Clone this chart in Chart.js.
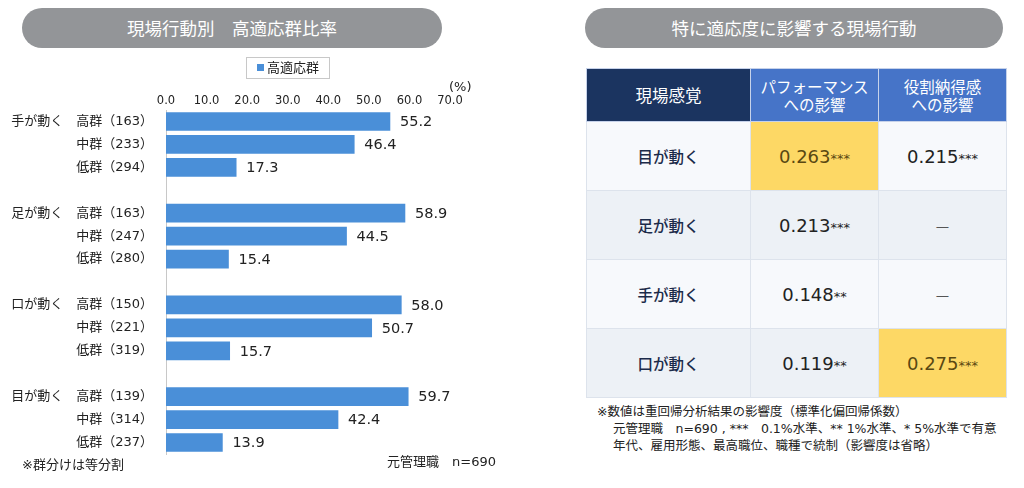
<!DOCTYPE html>
<html>
<head>
<meta charset="utf-8">
<script src="https://cdn.jsdelivr.net/npm/chart.js@4.4.1/dist/chart.umd.min.js"></script>
<style>
  body{margin:0;width:1024px;height:488px;background:#fff;position:relative;overflow:hidden;
    font-family:"DejaVu Sans","Noto Sans CJK JP",sans-serif;color:#222;}
  .pill{position:absolute;top:8px;height:40px;border-radius:20px;background:#939598;color:#fff;
    font-family:"Noto Sans CJK JP",sans-serif;font-size:17.5px;line-height:40px;text-align:center;}
  #chartBox{position:absolute;left:0;top:0;width:520px;height:488px;}
  .legend{position:absolute;left:246px;top:57px;width:84px;height:22px;border:1px solid #c8c8c8;
    box-sizing:border-box;font-size:13px;line-height:20px;text-align:center;color:#222;}
  .legend i{display:inline-block;width:7px;height:7px;background:#4a8fd8;margin-right:3px;vertical-align:1px;}
  .txt{position:absolute;font-size:13px;color:#222;white-space:nowrap;}
  table{position:absolute;left:586px;top:68px;width:420px;border-collapse:collapse;table-layout:fixed;}
  td,th{text-align:center;padding:0;border:1px solid #dde3ec;}
  th{height:52px;color:#fff;font-weight:400;font-size:15.5px;line-height:18px;background:#4674c8;border-color:#c6d2ea;
     font-family:"Noto Sans CJK JP",sans-serif;}
  th.first{background:#1b3460;font-size:16.5px;}
  td{height:68px;font-size:18px;color:#222;}
  td.lab{font-size:15.5px;color:#1c2b4a;font-weight:500;font-family:"Noto Sans CJK JP",sans-serif;}
  tr.odd td{background:#f7f9fc;}
  tr.even td{background:#edf1f6;}
  tr td.hi{background:#fdd865;color:#5a4812;}
  td small{font-size:13px;}
  td.dash{color:#555;font-size:15px;font-family:"Noto Sans CJK JP",sans-serif;}
  .note{position:absolute;left:597px;top:403px;font-size:12.5px;line-height:17px;color:#222;white-space:nowrap;}
  .note div.ind{padding-left:16px;}
</style>
</head>
<body>
<div class="pill" style="left:22px;width:420px;">現場行動別　高適応群比率</div>
<div class="pill" style="left:585px;width:418px;">特に適応度に影響する現場行動</div>

<div id="chartBox"><canvas id="c"></canvas></div>
<div class="legend"><i></i>高適応群</div>
<div class="txt" style="left:449px;top:79px;">(%)</div>
<div class="txt" style="left:22px;top:454px;">※群分けは等分割</div>
<div class="txt" style="left:387px;top:451px;">元管理職　n=690</div>

<table id="tbl"></table>
<div class="note">
  <div>※数値は重回帰分析結果の影響度（標準化偏回帰係数）</div>
  <div class="ind">元管理職　n=690 , ***　0.1%水準、** 1%水準、* 5%水準で有意</div>
  <div class="ind">年代、雇用形態、最高職位、職種で統制（影響度は省略）</div>
</div>

<script>
// left chart data
const categories = [
  '手が動く　高群（163）', '中群（233）', '低群（294）', '',
  '足が動く　高群（163）', '中群（247）', '低群（280）', '',
  '口が動く　高群（150）', '中群（221）', '低群（319）', '',
  '目が動く　高群（139）', '中群（314）', '低群（237）'
];
const highRate = [55.2, 46.4, 17.3, null, 58.9, 44.5, 15.4, null, 58.0, 50.7, 15.7, null, 59.7, 42.4, 13.9];
const xTicks = [0, 10, 20, 30, 40, 50, 60, 70];

// right table data
const tableHeader = ['現場感覚', 'パフォーマンス<br>への影響', '役割納得感<br>への影響'];
const behaviors = ['目が動く', '足が動く', '手が動く', '口が動く'];
const perfValue = ['0.263', '0.213', '0.148', '0.119'];
const perfSig = ['***', '***', '**', '**'];
const roleValue = ['0.215', null, null, '0.275'];
const roleSig = ['***', '', '', '***'];
const perfHighlight = [true, false, false, false];
const roleHighlight = [false, false, false, true];

const FONT = '"DejaVu Sans", "Noto Sans CJK JP", sans-serif';

const valueLabels = {
  id: 'valueLabels',
  afterDatasetsDraw(chart){
    const ctx = chart.ctx;
    const meta = chart.getDatasetMeta(0);
    ctx.save();
    ctx.font = '14.5px ' + FONT;
    ctx.fillStyle = '#222';
    ctx.textBaseline = 'middle';
    meta.data.forEach((bar, i) => {
      const v = highRate[i];
      if (v == null) return;
      ctx.fillText(v.toFixed(1), bar.x + 10, bar.y + 1);
    });
    ctx.restore();
  }
};

new Chart(document.getElementById('c'), {
  type: 'bar',
  data: {
    labels: categories,
    datasets: [{ label: '高適応群', data: highRate, backgroundColor: '#4a8fd8', barThickness: 18 }]
  },
  options: {
    indexAxis: 'y',
    responsive: true,
    maintainAspectRatio: false,
    animation: false,
    layout: { padding: { top: 80, right: 70, bottom: 34, left: 0 } },
    plugins: { legend: { display: false }, tooltip: { enabled: false } },
    scales: {
      x: {
        position: 'top', min: 0, max: 70,
        afterBuildTicks: s => { s.ticks = xTicks.map(v => ({ value: v })); },
        afterFit: s => { s.height = 30; },
        grid: { display: false, drawTicks: false },
        border: { display: false },
        ticks: { padding: 2, color: '#222', font: { size: 11.5, family: FONT },
                 callback: v => Number(v).toFixed(1) }
      },
      y: {
        afterFit: s => { s.width = 166; },
        grid: { display: false, drawTicks: false },
        border: { display: true, color: '#c8c8c8', width: 1 },
        ticks: { padding: 13, color: '#222', autoSkip: false,
                 font: { size: 13, family: FONT } }
      }
    }
  },
  plugins: [valueLabels]
});

// build table
const tbl = document.getElementById('tbl');
let html = '<colgroup><col style="width:164px"><col style="width:128px"><col style="width:128px"></colgroup>';
html += '<tr>' + tableHeader.map((h, i) => `<th class="${i === 0 ? 'first' : ''}">${h}</th>`).join('') + '</tr>';
behaviors.forEach((b, i) => {
  const cell = (v, sig, hi) => v == null
    ? '<td class="dash">—</td>'
    : `<td class="${hi ? 'hi' : ''}">${v}<small>${sig}</small></td>`;
  html += `<tr class="${i % 2 === 0 ? 'odd' : 'even'}"><td class="lab">${b}</td>` +
    cell(perfValue[i], perfSig[i], perfHighlight[i]) +
    cell(roleValue[i], roleSig[i], roleHighlight[i]) + '</tr>';
});
tbl.innerHTML = html;
</script>
</body>
</html>
